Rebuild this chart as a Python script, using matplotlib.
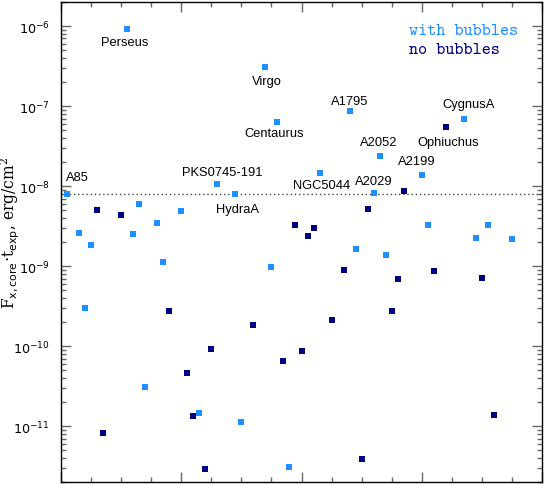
import matplotlib
matplotlib.use("Agg")
import matplotlib.pyplot as plt
from matplotlib.ticker import MultipleLocator, LogLocator, NullFormatter

# ---- data ----
with_x = [1, 3, 4, 5, 11, 12, 13, 14, 16, 17, 20, 23, 26, 29, 30, 34, 35, 36, 38,
          43, 48, 49, 52, 53, 54, 60, 61, 67, 69, 71, 75]
with_y = [7.9e-9, 2.58e-9, 3.0e-10, 1.83e-9, 9.1e-7, 2.54e-9, 5.96e-9, 3.07e-11,
          3.49e-9, 1.13e-9, 4.93e-9, 1.48e-11, 1.08e-8, 8.0e-9, 1.12e-11, 3.1e-7,
          9.8e-10, 6.3e-8, 3.1e-12, 1.48e-8, 8.6e-8, 1.63e-9, 8.26e-9, 2.35e-8,
          1.39e-9, 1.39e-8, 3.32e-9, 6.95e-8, 2.24e-9, 3.29e-9, 2.16e-9]

no_x = [6, 7, 10, 18, 21, 22, 24, 25, 32, 37, 39, 40, 41, 42, 45, 47, 50, 51,
        55, 56, 57, 62, 64, 70, 72]
no_y = [5.07e-9, 8.2e-12, 4.34e-9, 2.77e-10, 4.65e-11, 1.35e-11, 2.96e-12,
        9.28e-11, 1.87e-10, 6.57e-11, 3.29e-9, 8.76e-11, 2.4e-9, 2.99e-9,
        2.16e-10, 8.9e-10, 3.87e-12, 5.22e-9, 2.77e-10, 6.88e-10, 8.76e-9,
        8.76e-10, 5.42e-8, 7.23e-10, 1.4e-11]

threshold = 8.0e-9

names = ["A85", "Perseus", "PKS0745-191", "HydraA", "Virgo", "Centaurus",
         "NGC5044", "A1795", "A2029", "A2052", "A2199", "CygnusA", "Ophiuchus"]
name_x = [1, 11, 26, 29, 34, 36, 43, 48, 52, 53, 60, 67, 64]
# label offsets in pixels (dx, dy)
name_off = [(10, 17), (-3, -13), (5, 12), (2, -15), (1, -14), (-3, -11),
            (2, -12), (0, 10), (0, 12), (-1, 14), (-5, 14), (5, 15), (3, -15)]

c_with = "#1E90FF"
c_no = "#000080"

plt.rcParams['mathtext.fontset'] = 'stix'

fig = plt.figure(figsize=(5.44, 4.85), dpi=100)
ax = fig.add_axes([61.3 / 544, 1.7 / 485, (541.7 - 61.3) / 544, 480.3 / 485])

ax.axhline(threshold, color="0.25", linestyle=(0, (1, 2)), linewidth=1.0, zorder=1)

ax.scatter(with_x, with_y, marker="s", s=22, color=c_with, linewidths=0, zorder=3)
ax.scatter(no_x, no_y, marker="s", s=22, color=c_no, linewidths=0, zorder=3)

allx = with_x + no_x
ally = with_y + no_y
for nm, nx, (dx, dy) in zip(names, name_x, name_off):
    yv = ally[allx.index(nx)]
    ax.annotate(nm, (nx, yv), xytext=(dx, dy), textcoords="offset pixels",
                ha="center", va="center", fontsize=9.3,
                family="Liberation Sans", color="black", zorder=4)

ax.set_yscale("log")
ax.set_xlim(0, 80)
ax.set_ylim(2e-12, 2e-6)

ax.xaxis.set_major_locator(MultipleLocator(20))
ax.xaxis.set_minor_locator(MultipleLocator(5))
ax.yaxis.set_major_locator(LogLocator(base=10, numticks=20))
ax.yaxis.set_minor_locator(LogLocator(base=10, subs=range(2, 10), numticks=50))
ax.yaxis.set_minor_formatter(NullFormatter())

ax.tick_params(which="both", direction="in", top=True, right=True, color="0.4", width=1.0,
               labelbottom=False)
ax.tick_params(which="major", length=7.2)
ax.tick_params(which="minor", length=3.8)
ax.tick_params(axis="y", which="major", labelsize=9.2, pad=8.5)

for sp in ax.spines.values():
    sp.set_linewidth(1.0)
    sp.set_color("black")

ax.set_ylabel(r"$\mathrm{F}_{\mathsf{x,core}}{\cdot}\mathrm{t}_{\mathsf{exp}}$, erg/cm$^2$",
              fontsize=11.2, family="DejaVu Serif", math_fontfamily="dejavuserif")
ax.yaxis.set_label_coords(-0.082, 0.522)

fig.text(409 / 544, 1 - 31.7 / 485, "with bubbles", color=c_with, fontsize=12.5,
         family="cmtt10", ha="left", va="center")
fig.text(409 / 544, 1 - 50.7 / 485, "no bubbles", color=c_no, fontsize=12.5,
         family="cmtt10", ha="left", va="center")

fig.savefig("out.png", dpi=100)
